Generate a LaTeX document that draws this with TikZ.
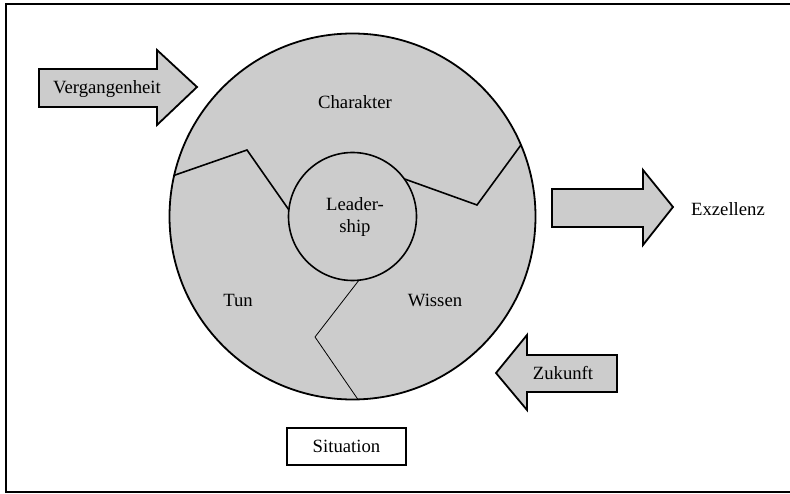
\documentclass[tikz,border=0pt]{standalone}
\usepackage{fontspec}
\setmainfont{Liberation Serif}
\usetikzlibrary{calc}
\definecolor{ringgray}{HTML}{CCCCCC}
\tikzset{
  lbl/.style={font=\fontsize{18.7}{21.5}\selectfont, inner sep=0pt, align=center},
  shp/.style={draw=black, line width=1.8pt, fill=ringgray, line join=miter},
  divider/.style={draw=black, line width=1.6pt},
  thindiv/.style={draw=black, line width=0.8pt},
}
\begin{document}
\begin{tikzpicture}[x=1pt,y=1pt]
\useasboundingbox (0,0) rectangle (790,493);
\begin{scope}
\clip (0,0) rectangle (790,493);
\draw[line width=2.8pt] (6,1) rectangle (810,489);
\end{scope}
% circles
\coordinate (c) at (352.5,276.5);
\fill[ringgray] (c) circle (183);
\draw[line width=1.8pt] (c) circle (183);
\node[circle, draw=black, line width=1.6pt, fill=ringgray, minimum size=128pt, inner sep=0pt] (lead) at (c) {};
% dividers
\coordinate (lo) at ($(c)+(167:183)$);
\coordinate (lm) at (247,343);
\coordinate (li) at ($(c)+(174:64)$);
\coordinate (ro) at ($(c)+(23:183)$);
\coordinate (rm) at (477,288);
\coordinate (ri) at ($(c)+(36:64)$);
\coordinate (bo) at ($(c)+(271.7:183)$);
\coordinate (bm) at (315,156);
\coordinate (bi) at ($(c)+(275.8:64)$);
\draw[divider, line join=miter] (lo) -- (lm) -- (li);
\draw[divider, line join=miter] (ri) -- (rm) -- (ro);
\draw[thindiv] (bi) -- (bm) -- (bo);
% labels in ring
\node[lbl] (char) at (355,391) {Charakter};
\node[lbl] (leadtxt) at (355,276) {Leader-\\ship};
\node[lbl] (tun) at (238,193) {Tun};
\node[lbl] (wis) at (435,193) {Wissen};
% arrows
\draw[shp] (39,424) -- (157,424) -- (157,443) -- (197,406) -- (157,368) -- (157,386) -- (39,386) -- cycle;
\node[lbl] (verg) at (107,404) {Vergangenheit};
\draw[shp] (552,304) -- (643,304) -- (643,323) -- (673,286) -- (643,248) -- (643,266) -- (552,266) -- cycle;
\node[lbl] (exz) at (728,284) {Exzellenz};
\draw[shp] (617,138) -- (527,138) -- (527,158) -- (496,120) -- (527,83) -- (527,101) -- (617,101) -- cycle;
\node[lbl] (zuk) at (563,120) {Zukunft};
% situation
\node[draw=black, line width=1.6pt, minimum width=119pt, minimum height=37pt, inner sep=0pt, font=\fontsize{18.7}{21.5}\selectfont] (sit) at (346.5,46.5) {Situation};
\end{tikzpicture}
\end{document}
